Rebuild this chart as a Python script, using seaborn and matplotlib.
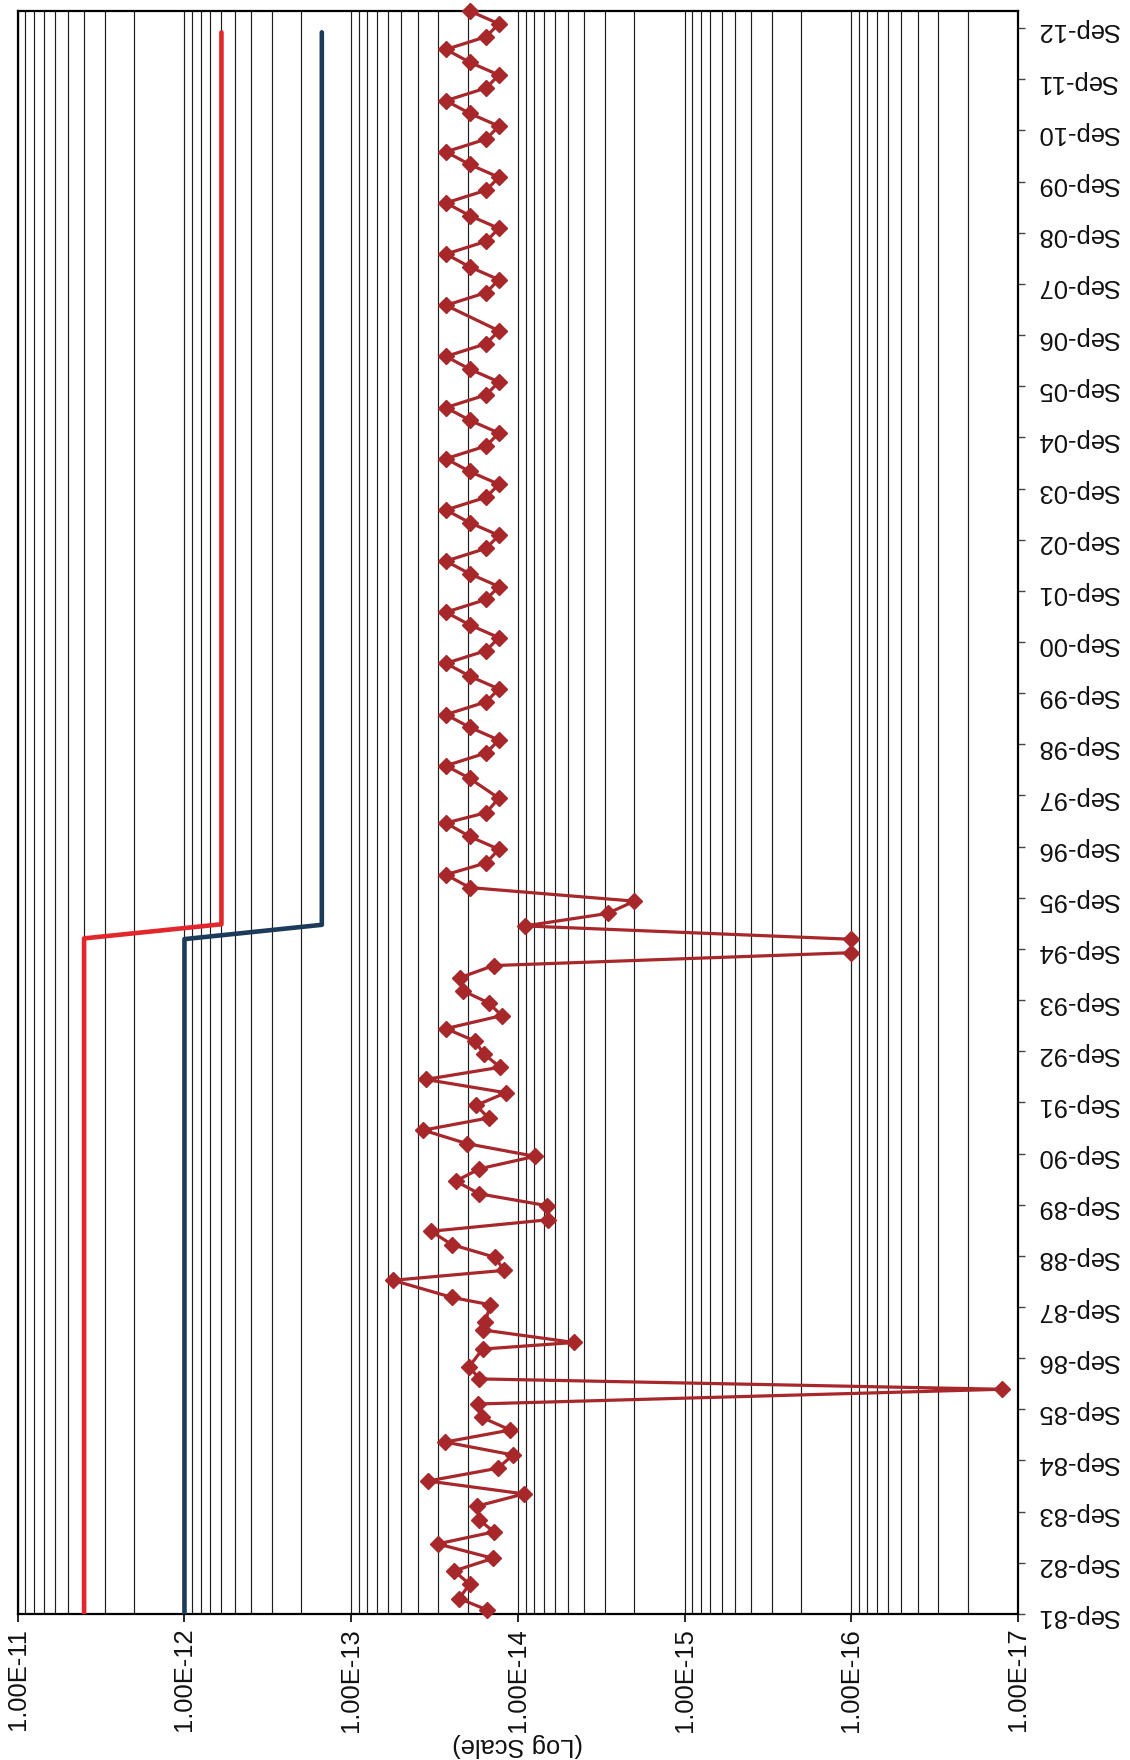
import pandas as pd
import matplotlib
matplotlib.use("Agg")
import matplotlib.pyplot as plt
import matplotlib.dates as mdates
from matplotlib.ticker import (LogLocator, FuncFormatter, NullFormatter,
                               FixedLocator, FixedFormatter)
import seaborn as sns

# Quarterly measurements (date, value)
sample_dates = [
    "1981-10-01", "1981-12-20",
    "1982-04-01", "1982-07-05", "1982-10-03",
    "1983-01-14", "1983-04-10", "1983-07-02", "1983-10-11",
    "1984-01-06", "1984-04-07", "1984-07-07", "1984-10-10",
    "1985-01-10", "1985-04-06", "1985-07-06", "1985-10-09",
    "1986-01-22", "1986-04-06", "1986-07-02", "1986-11-05", "1986-12-22",
    "1987-03-21", "1987-05-20", "1987-09-17", "1987-11-09",
    "1988-03-10", "1988-05-20", "1988-08-21", "1988-11-20",
    "1989-02-23", "1989-05-16", "1989-08-25", "1989-11-17",
    "1990-02-16", "1990-05-15", "1990-08-12", "1990-11-11",
    "1991-02-15", "1991-05-13", "1991-08-11", "1991-11-09",
    "1992-02-12", "1992-05-09", "1992-08-13", "1992-11-12",
    "1993-02-09", "1993-05-13", "1993-08-12", "1993-11-04",
    "1994-02-08", "1994-05-05", "1994-08-05", "1994-11-09",
    "1995-02-12", "1995-05-12", "1995-08-08", "1995-11-13",
    "1996-02-13", "1996-05-07", "1996-08-12", "1996-11-12",
    "1997-02-16", "1997-05-01", "1997-08-12",
    "1998-01-01", "1998-04-01", "1998-07-01", "1998-10-01",
    "1999-01-01", "1999-04-01", "1999-07-01", "1999-10-01",
    "2000-01-01", "2000-04-01", "2000-07-01", "2000-10-01",
    "2001-01-01", "2001-04-01", "2001-07-01", "2001-10-01",
    "2002-01-01", "2002-04-01", "2002-07-01", "2002-10-01",
    "2003-01-01", "2003-04-01", "2003-07-01", "2003-10-01",
    "2004-01-01", "2004-04-01", "2004-07-01", "2004-10-01",
    "2005-01-01", "2005-04-01", "2005-07-01", "2005-10-01",
    "2006-01-01", "2006-04-01", "2006-07-01", "2006-10-01",
    "2007-04-01", "2007-07-01", "2007-10-01",
    "2008-01-01", "2008-04-01", "2008-07-01", "2008-10-01",
    "2009-01-01", "2009-04-01", "2009-07-01", "2009-10-01",
    "2010-01-01", "2010-04-01", "2010-07-01", "2010-10-01",
    "2011-01-01", "2011-04-01", "2011-07-01", "2011-10-01",
    "2012-01-01", "2012-04-01", "2012-07-01", "2012-10-01",
    "2013-01-01",
]
sample_values = [
    1.54e-14, 2.25e-14,
    1.95e-14, 2.41e-14, 1.41e-14,
    3.03e-14, 1.39e-14, 1.70e-14, 1.75e-14,
    9.2e-15, 3.46e-14, 1.32e-14, 1.07e-14,
    2.73e-14, 1.11e-14, 1.65e-14, 1.73e-14,
    1.25e-17, 1.70e-14, 1.96e-14, 1.63e-14, 4.6e-15,
    1.61e-14, 1.57e-14, 1.46e-14, 2.49e-14,
    5.6e-14, 1.21e-14, 1.37e-14, 2.49e-14,
    3.32e-14, 6.6e-15, 6.7e-15, 1.70e-14,
    2.36e-14, 1.70e-14, 7.9e-15, 2.03e-14,
    3.69e-14, 1.50e-14, 1.78e-14, 1.18e-14,
    3.57e-14, 1.28e-14, 1.60e-14, 1.81e-14,
    2.70e-14, 1.25e-14, 1.50e-14, 2.12e-14,
    2.22e-14, 1.40e-14, 1.0e-16, 1.0e-16,
    9.1e-15, 2.9e-15, 2.0e-15, 1.95e-14,
    2.70e-14, 1.55e-14, 1.30e-14, 1.95e-14,
    2.70e-14, 1.55e-14, 1.30e-14,
    1.95e-14, 2.70e-14, 1.55e-14, 1.30e-14,
    1.95e-14, 2.70e-14, 1.55e-14, 1.30e-14,
    1.95e-14, 2.70e-14, 1.55e-14, 1.30e-14,
    1.95e-14, 2.70e-14, 1.55e-14, 1.30e-14,
    1.95e-14, 2.70e-14, 1.55e-14, 1.30e-14,
    1.95e-14, 2.70e-14, 1.55e-14, 1.30e-14,
    1.95e-14, 2.70e-14, 1.55e-14, 1.30e-14,
    1.95e-14, 2.70e-14, 1.55e-14, 1.30e-14,
    1.95e-14, 2.70e-14, 1.55e-14, 1.30e-14,
    2.70e-14, 1.55e-14, 1.30e-14,
    1.95e-14, 2.70e-14, 1.55e-14, 1.30e-14,
    1.95e-14, 2.70e-14, 1.55e-14, 1.30e-14,
    1.95e-14, 2.70e-14, 1.55e-14, 1.30e-14,
    1.95e-14, 2.70e-14, 1.55e-14, 1.30e-14,
    1.95e-14, 2.70e-14, 1.55e-14, 1.30e-14,
    1.95e-14,
]

# Limit lines (stepped)
red_dates = ["1981-09-01", "1994-11-15", "1995-02-24", "2012-08-01"]
red_values = [4.0e-12, 4.0e-12, 6.0e-13, 6.0e-13]
blue_dates = ["1981-09-01", "1994-11-10", "1995-02-20", "2012-08-01"]
blue_values = [1.0e-12, 1.0e-12, 1.5e-13, 1.5e-13]

decade_ticks = [1e-11, 1e-12, 1e-13, 1e-14, 1e-15, 1e-16, 1e-17]
tick_years = list(range(1981, 2013))
tick_labels = ["Sep-%02d" % (y % 100) for y in tick_years]
axis_label = "(Log Scale)"

RED = "#E2262B"
NAVY = "#1C3A5A"
MAROON = "#A8272B"
FS = 18.4

sns.set_theme(style="white")
plt.rcParams["font.family"] = ["Liberation Sans", "DejaVu Sans"]

fig = plt.figure(figsize=(11.3, 17.6), dpi=100)
ax = fig.add_axes([0.0157, 0.0830, 0.8852, 0.9108])

samples = pd.DataFrame({"date": pd.to_datetime(sample_dates), "value": sample_values})
red = pd.DataFrame({"date": pd.to_datetime(red_dates), "value": red_values})
blue = pd.DataFrame({"date": pd.to_datetime(blue_dates), "value": blue_values})

sns.lineplot(data=red, x="value", y="date", orient="y", sort=False, estimator=None,
             color=RED, lw=3.3, solid_capstyle="round", ax=ax, zorder=3)
sns.lineplot(data=blue, x="value", y="date", orient="y", sort=False, estimator=None,
             color=NAVY, lw=3.3, solid_capstyle="round", ax=ax, zorder=3)
sns.lineplot(data=samples, x="value", y="date", orient="y", sort=False, estimator=None,
             color=MAROON, lw=2.3, marker="D", markersize=8.5, markeredgewidth=1,
             markeredgecolor=MAROON, markerfacecolor=MAROON, ax=ax, zorder=4,
             clip_on=False)

# value axis: log scale, decreasing to the right
ax.set_xscale("log")
ax.set_xlim(1e-11, 1e-17)
ax.xaxis.set_major_locator(FixedLocator(decade_ticks))
ax.xaxis.set_major_formatter(FuncFormatter(lambda v, pos: "%.2E" % v))
ax.xaxis.set_minor_locator(LogLocator(base=10, subs=range(2, 10), numticks=40))
ax.xaxis.set_minor_formatter(NullFormatter())
ax.grid(True, which="both", axis="x", color="#1e1e1e", lw=0.85)
ax.grid(False, axis="y")
ax.set_axisbelow(True)

# time axis on the right
ax.set_ylim(pd.Timestamp("1981-09-01"), pd.Timestamp("2013-01-01"))
ax.yaxis.set_major_locator(FixedLocator(
    [mdates.date2num(pd.Timestamp("%d-09-01" % y)) for y in tick_years]))
ax.yaxis.set_major_formatter(FixedFormatter(tick_labels))
ax.yaxis.set_minor_locator(FixedLocator([]))
ax.yaxis.tick_right()

ax.tick_params(axis="x", which="major", bottom=True, top=False, direction="out",
               length=6, width=1.2, color="black", labelsize=FS, labelrotation=90,
               pad=4, labelcolor="#111111")
ax.tick_params(axis="x", which="minor", bottom=False, top=False, length=0)
ax.tick_params(axis="y", which="major", right=True, left=False, direction="out",
               length=5, width=1.0, color="#444444", labelsize=FS, labelrotation=180,
               pad=8, labelcolor="#111111")

ax.set_ylabel("")
ax.set_xlabel(axis_label, fontsize=FS, rotation=180, color="#111111")
ax.xaxis.set_label_coords(0.5, -0.0745)

for side in ["left", "right", "top", "bottom"]:
    ax.spines[side].set_visible(True)
    ax.spines[side].set_color("black")
    ax.spines[side].set_linewidth(1.6)

fig.patch.set_facecolor("white")
ax.set_facecolor("white")
fig.savefig("out.png", dpi=100, facecolor="white")
